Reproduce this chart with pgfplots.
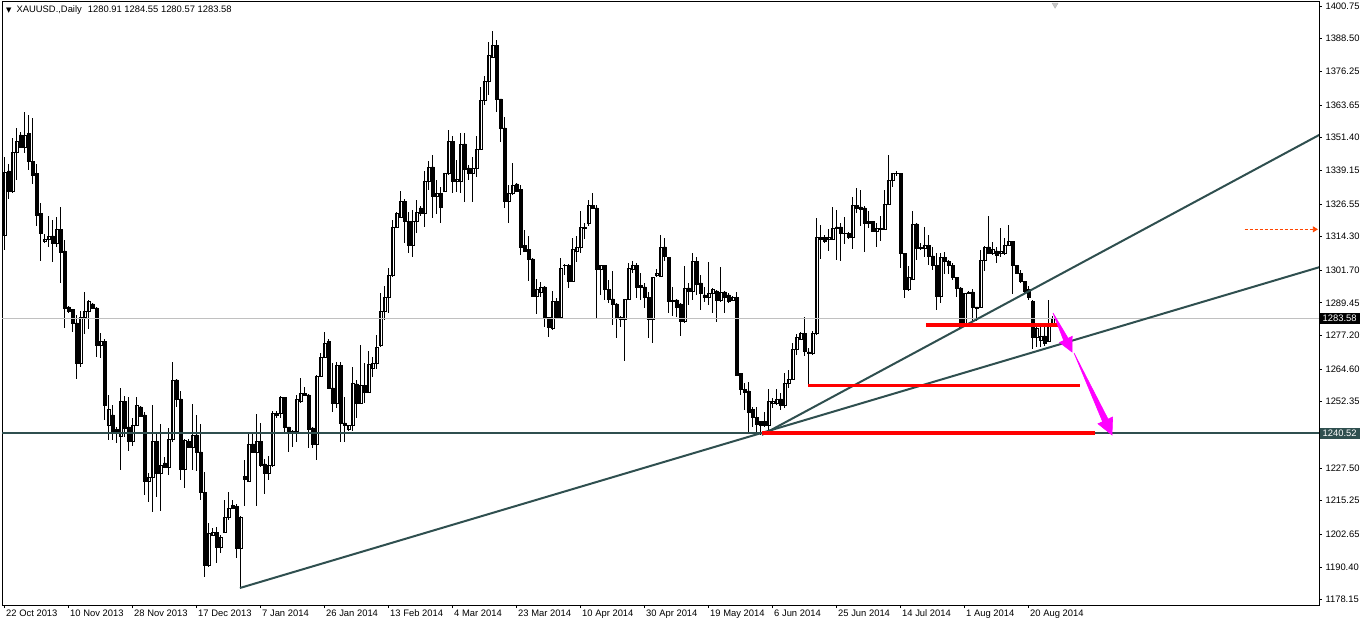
\documentclass[border=0pt]{standalone}
\usepackage{fontspec}
\setmainfont{Liberation Sans}
\newfontfamily\dejavu{DejaVu Sans}
\usepackage{pgfplots}
\pgfplotsset{compat=1.18}
\usepackage{pgfplotstable}
\usetikzlibrary{arrows.meta}
\definecolor{slate}{HTML}{2F4F4F}
\definecolor{bidgray}{HTML}{C0C0C0}
\definecolor{orred}{HTML}{FF4500}
\definecolor{mag}{HTML}{FF00FF}

\pgfplotstableread{
x o h l c
0 1314.9 1344.1 1309.3 1338.5
1 1338.9 1341.5 1328.4 1331.4
2 1331.4 1351.3 1330.5 1346.0
3 1346.0 1355.0 1335.5 1350.1
4 1352.4 1353.5 1347.5 1347.9
5 1347.9 1361.0 1345.6 1352.4
6 1352.8 1359.9 1339.3 1342.6
7 1342.6 1358.8 1334.0 1337.4
8 1337.8 1341.5 1318.3 1322.4
9 1322.8 1326.9 1305.1 1315.3
10 1312.3 1315.3 1312.0 1313.4
11 1313.4 1322.0 1310.4 1314.5
12 1314.5 1320.5 1304.8 1311.9
13 1311.9 1321.6 1310.4 1317.1
14 1317.1 1325.4 1296.9 1308.5
15 1308.9 1313.0 1280.0 1287.5
16 1287.9 1288.3 1285.6 1286.4
17 1286.8 1287.0 1278.5 1281.9
18 1281.9 1284.9 1260.9 1266.9
19 1266.9 1286.4 1265.4 1284.1
20 1284.1 1293.5 1277.8 1286.4
21 1286.4 1290.5 1279.6 1289.8
22 1289.0 1289.2 1287.3 1287.5
23 1287.5 1287.9 1269.1 1273.3
24 1273.3 1278.1 1268.8 1274.8
25 1274.8 1275.9 1245.5 1251.1
26 1243.6 1254.9 1238.0 1249.3
27 1247.4 1251.1 1238.0 1241.0
28 1241.8 1242.9 1236.9 1240.3
29 1239.5 1257.5 1226.8 1252.3
30 1252.3 1254.5 1239.1 1242.5
31 1242.9 1254.1 1233.9 1237.3
32 1237.3 1246.3 1235.8 1243.6
33 1243.6 1254.1 1243.3 1251.1
34 1250.4 1250.6 1246.8 1247.0
35 1247.4 1248.5 1217.4 1222.3
36 1222.3 1225.6 1214.8 1224.1
37 1224.1 1251.1 1211.0 1237.6
38 1237.3 1241.0 1216.6 1225.6
39 1225.6 1244.0 1211.4 1228.6
40 1229.4 1231.6 1227.7 1227.9
41 1227.9 1242.5 1224.9 1238.4
42 1238.4 1267.3 1237.3 1260.5
43 1260.5 1260.8 1250.4 1253.4
44 1253.4 1256.4 1223.0 1227.1
45 1227.1 1238.4 1220.0 1238.0
46 1237.6 1238.4 1235.2 1235.4
47 1235.4 1251.5 1226.8 1239.9
48 1239.9 1247.4 1226.4 1233.5
49 1233.5 1244.0 1215.5 1218.5
50 1218.5 1226.0 1186.6 1190.8
51 1190.8 1206.9 1190.4 1202.8
52 1202.4 1205.0 1202.0 1203.5
53 1203.5 1205.4 1191.9 1197.9
54 1197.9 1202.4 1195.6 1201.3
55 1203.5 1215.5 1203.0 1208.8
56 1208.8 1218.5 1208.0 1212.5
57 1213.6 1215.5 1212.2 1212.5
58 1213.1 1214.0 1193.8 1197.5
59 1197.5 1209.5 1182.5 1209.1
60 1224.5 1230.5 1213.1 1223.4
61 1222.6 1240.3 1222.3 1236.5
62 1236.5 1240.6 1233.3 1233.5
63 1233.5 1247.8 1213.1 1237.3
64 1237.3 1244.4 1228.0 1228.3
65 1229.0 1230.9 1217.8 1225.3
66 1225.3 1232.0 1223.0 1228.3
67 1228.3 1248.9 1227.9 1247.8
68 1248.1 1248.9 1246.3 1247.4
69 1248.1 1254.5 1246.3 1253.8
70 1253.8 1254.1 1240.6 1242.9
71 1242.9 1243.0 1233.5 1241.0
72 1241.0 1241.6 1235.4 1241.4
73 1241.4 1254.9 1237.3 1253.4
74 1252.3 1261.3 1251.9 1255.6
75 1255.6 1257.9 1254.7 1254.9
76 1254.9 1255.1 1235.0 1242.1
77 1242.5 1243.0 1235.0 1236.5
78 1236.5 1262.2 1230.5 1262.0
79 1262.0 1270.6 1261.6 1269.1
80 1269.1 1278.5 1268.9 1274.4
81 1275.1 1275.9 1257.1 1257.5
82 1257.5 1266.9 1248.5 1251.9
83 1251.9 1267.3 1250.0 1266.1
84 1266.1 1267.3 1237.3 1244.4
85 1244.4 1254.1 1237.3 1243.6
86 1241.8 1243.6 1241.4 1243.3
87 1243.3 1265.4 1241.4 1259.4
88 1259.0 1260.5 1246.3 1251.9
89 1251.9 1273.6 1251.6 1258.3
90 1258.6 1266.9 1251.9 1256.0
91 1256.0 1271.4 1255.6 1266.5
92 1265.0 1269.1 1261.6 1266.9
93 1266.9 1277.4 1264.6 1272.9
94 1273.3 1293.1 1272.9 1286.4
95 1286.4 1295.8 1283.0 1291.3
96 1291.3 1302.5 1285.6 1299.9
97 1299.9 1320.5 1299.1 1317.9
98 1317.9 1323.5 1317.5 1323.1
99 1321.6 1331.4 1321.4 1327.6
100 1327.6 1328.4 1311.9 1319.8
101 1319.8 1323.5 1308.1 1310.8
102 1310.8 1324.3 1306.6 1320.1
103 1320.1 1328.0 1315.6 1323.5
104 1325.0 1325.8 1322.0 1323.1
105 1323.1 1338.9 1317.9 1335.1
106 1335.1 1342.6 1331.8 1340.4
107 1340.4 1344.9 1321.3 1329.5
108 1329.5 1335.5 1322.8 1330.6
109 1330.6 1332.9 1319.4 1325.4
110 1331.4 1338.1 1331.0 1337.8
111 1337.8 1354.3 1337.4 1350.1
112 1350.1 1352.0 1330.6 1335.1
113 1335.1 1343.0 1331.0 1335.9
114 1335.1 1353.1 1330.6 1349.0
115 1349.0 1353.1 1327.3 1339.6
116 1340.0 1341.1 1335.5 1337.8
117 1337.8 1344.1 1327.3 1340.0
118 1340.0 1352.0 1336.6 1347.1
119 1347.1 1370.4 1346.8 1365.5
120 1365.5 1374.5 1363.6 1372.3
121 1372.3 1387.3 1367.4 1382.4
122 1381.6 1391.4 1381.3 1386.1
123 1386.1 1388.0 1361.0 1365.9
124 1365.9 1366.0 1349.8 1355.0
125 1355.0 1359.1 1325.0 1327.3
126 1327.3 1333.6 1319.4 1330.3
127 1330.3 1341.9 1329.9 1333.6
128 1334.0 1334.4 1331.0 1331.4
129 1331.8 1333.6 1307.4 1310.4
130 1310.8 1316.8 1308.5 1308.9
131 1309.3 1314.5 1297.6 1305.9
132 1305.9 1306.3 1291.6 1292.0
133 1292.0 1298.4 1285.3 1294.6
134 1293.5 1297.3 1291.6 1295.4
135 1295.4 1295.6 1280.4 1283.8
136 1283.8 1284.0 1276.6 1280.4
137 1280.0 1293.9 1279.3 1289.8
138 1289.8 1291.3 1283.8 1284.1
139 1284.1 1306.3 1283.8 1302.5
140 1303.4 1304.0 1299.9 1303.6
141 1303.3 1304.0 1295.0 1297.6
142 1297.6 1313.8 1297.4 1309.3
143 1308.9 1314.5 1304.8 1310.4
144 1310.4 1323.9 1308.1 1317.9
145 1317.5 1319.4 1313.4 1317.9
146 1319.4 1328.0 1318.3 1325.8
147 1326.1 1330.6 1324.8 1325.0
148 1325.0 1326.1 1283.8 1302.1
149 1302.1 1303.6 1292.4 1303.3
150 1303.3 1303.6 1290.5 1294.3
151 1294.3 1298.0 1289.4 1290.9
152 1290.9 1301.4 1281.1 1289.0
153 1289.0 1289.4 1276.3 1284.1
154 1284.1 1284.5 1280.4 1283.4
155 1283.4 1291.0 1267.6 1290.9
156 1290.9 1304.4 1290.5 1302.5
157 1302.1 1305.1 1300.6 1303.3
158 1303.3 1304.4 1291.3 1295.4
159 1295.8 1300.6 1290.5 1295.4
160 1295.4 1296.9 1287.5 1291.3
161 1291.3 1293.5 1276.3 1283.4
162 1283.4 1299.1 1274.4 1298.8
163 1299.9 1302.1 1299.1 1300.3
164 1299.5 1314.9 1299.1 1310.4
165 1310.4 1313.8 1305.1 1307.0
166 1306.6 1306.8 1285.6 1289.8
167 1289.8 1295.4 1284.5 1290.5
168 1290.5 1290.9 1284.1 1287.9
169 1289.0 1289.4 1277.0 1282.3
170 1282.3 1303.3 1281.9 1295.0
171 1295.0 1296.9 1288.6 1293.9
172 1293.9 1308.1 1290.5 1304.8
173 1304.8 1306.6 1292.4 1296.5
174 1296.9 1299.9 1286.8 1292.8
175 1292.4 1295.4 1289.8 1291.6
176 1291.6 1304.8 1288.6 1292.8
177 1292.8 1295.0 1285.6 1294.3
178 1293.9 1294.3 1282.3 1290.5
179 1290.5 1302.9 1289.8 1293.5
180 1293.5 1293.9 1285.6 1291.6
181 1292.4 1293.1 1289.4 1290.1
182 1290.5 1292.0 1290.1 1291.6
183 1291.6 1293.5 1262.0 1262.4
184 1262.8 1263.0 1254.9 1256.8
185 1257.1 1259.4 1249.3 1256.0
186 1256.4 1259.8 1240.6 1248.5
187 1249.6 1250.4 1242.9 1246.3
188 1246.6 1250.4 1240.6 1244.0
189 1244.8 1245.1 1239.9 1243.6
190 1244.8 1248.5 1242.9 1243.3
191 1243.3 1257.1 1241.8 1252.3
192 1251.9 1253.8 1250.0 1252.3
193 1251.9 1257.1 1251.1 1253.4
194 1253.4 1255.6 1249.3 1251.1
195 1251.1 1263.1 1250.0 1259.4
196 1259.4 1264.3 1257.5 1260.9
197 1260.9 1274.4 1260.5 1272.1
198 1272.1 1277.8 1269.9 1276.3
199 1275.9 1278.5 1275.5 1277.8
200 1277.8 1284.1 1269.5 1271.4
201 1271.0 1272.5 1258.6 1270.3
202 1270.3 1278.9 1269.9 1278.1
203 1278.1 1321.3 1277.4 1314.1
204 1314.1 1318.6 1305.9 1313.4
205 1313.8 1314.9 1311.9 1312.6
206 1313.4 1317.1 1308.9 1313.8
207 1313.4 1325.4 1313.0 1317.5
208 1317.9 1324.3 1305.5 1317.5
209 1317.9 1319.4 1305.1 1315.3
210 1315.6 1321.6 1311.5 1315.3
211 1315.3 1316.0 1313.6 1313.8
212 1314.1 1329.1 1309.6 1325.8
213 1325.8 1332.5 1323.1 1325.0
214 1325.4 1331.8 1318.3 1324.6
215 1325.0 1325.8 1308.5 1319.4
216 1319.8 1323.9 1317.5 1319.4
217 1320.1 1320.3 1316.0 1316.4
218 1316.4 1319.4 1310.4 1317.5
219 1317.1 1322.0 1312.6 1317.5
220 1317.1 1331.8 1316.8 1326.5
221 1326.5 1344.9 1326.1 1335.5
222 1335.5 1338.1 1332.9 1337.8
223 1337.8 1338.9 1337.0 1338.1
224 1338.1 1338.3 1302.5 1308.1
225 1308.1 1308.3 1291.3 1294.6
226 1294.6 1303.3 1293.9 1298.8
227 1298.4 1323.9 1298.0 1319.0
228 1319.0 1319.4 1305.5 1310.0
229 1310.2 1311.9 1309.3 1309.8
230 1310.0 1317.9 1306.6 1310.8
231 1310.8 1314.9 1303.6 1307.0
232 1307.0 1310.4 1301.8 1303.3
233 1303.6 1308.1 1286.8 1292.0
234 1292.0 1308.1 1289.4 1306.3
235 1306.6 1308.5 1300.3 1305.1
236 1305.1 1305.5 1300.3 1303.6
237 1303.6 1304.4 1298.0 1298.8
238 1298.8 1299.1 1291.6 1295.0
239 1295.0 1295.4 1280.0 1280.4
240 1281.9 1293.3 1281.7 1293.1
241 1293.1 1293.9 1292.8 1293.5
242 1293.5 1294.6 1282.3 1287.9
243 1287.9 1288.0 1282.6 1287.5
244 1287.9 1309.3 1287.5 1305.5
245 1305.5 1310.6 1301.4 1310.4
246 1310.4 1322.0 1307.9 1308.1
247 1308.1 1312.3 1307.4 1309.3
248 1308.9 1310.4 1304.4 1307.4
249 1308.1 1317.5 1306.6 1308.9
250 1308.1 1313.8 1307.4 1311.1
251 1311.1 1318.6 1310.8 1312.3
252 1312.3 1312.6 1292.8 1303.6
253 1303.6 1303.8 1300.3 1300.6
254 1300.6 1301.8 1296.9 1297.3
255 1297.3 1297.6 1293.1 1293.9
256 1294.6 1295.8 1290.5 1291.3
257 1289.8 1290.5 1272.1 1276.6
258 1276.6 1280.4 1272.9 1280.0
259 1275.5 1281.9 1272.9 1277.0
260 1277.0 1281.1 1273.3 1274.4
261 1275.1 1290.5 1274.8 1280.8
262 1280.91 1284.55 1280.57 1283.58
}\candles

\begin{document}
\begin{tikzpicture}[x=1pt,y=1pt]
\useasboundingbox (0,0) rectangle (1365,624);
\pgfplotsset{common/.style={
  scale only axis, width=1317pt, height=604pt,
  xmin=-0.675, xmax=328.575, ymin=1176.125, ymax=1402.625,
  at={(2pt,19pt)}, anchor=south west}}
\begin{axis}[common,
  ybar stacked, bar width=0.72,
  axis line style={black, line width=0.8pt},
  xtick={0,16,...,256},
  xticklabels={22 Oct 2013,10 Nov 2013,28 Nov 2013,17 Dec 2013,7 Jan 2014,26 Jan 2014,13 Feb 2014,4 Mar 2014,23 Mar 2014,10 Apr 2014,30 Apr 2014,19 May 2014,6 Jun 2014,25 Jun 2014,14 Jul 2014,1 Aug 2014,20 Aug 2014},
  ytick={1178.15,1190.40,1202.65,1215.25,1227.50,1240.10,1252.35,1264.60,1277.20,1289.45,1301.70,1314.30,1326.55,1339.15,1351.40,1363.65,1376.25,1388.50,1400.75},
  yticklabels={1178.15,1190.40,1202.65,1215.25,1227.50,{},1252.35,1264.60,1277.20,1289.45,1301.70,1314.30,1326.55,1339.15,1351.40,1363.65,1376.25,1388.50,1400.75},
  xtick pos=left, ytick pos=right, yticklabel pos=right,
  tick align=outside, major tick length=3pt,
  tick style={black, line width=0.6pt},
  tick label style={font=\fontsize{9.4}{11}\selectfont, black},
  x tick label style={anchor=north west, xshift=-2pt, yshift=2pt},
  y tick label style={anchor=west, xshift=0pt},
]
\addplot[draw=none, fill=none,
  error bars/.cd, y dir=both, y explicit, error mark=none,
  error bar style={draw=black, line width=0.8pt, solid}]
  table[x=x, y expr={min(\thisrow{o},\thisrow{c})},
        y error plus expr={\thisrow{h}-min(\thisrow{o},\thisrow{c})},
        y error minus expr={min(\thisrow{o},\thisrow{c})-\thisrow{l}}] \candles;
\addplot[draw=black, fill=white, line width=0.8pt]
  table[x=x, y expr={max(\thisrow{c}-\thisrow{o},0)}] \candles;
\addplot[draw=black, fill=black, line width=0.8pt]
  table[x=x, y expr={max(\thisrow{o}-\thisrow{c},0)}] \candles;
\end{axis}

\begin{axis}[common, hide axis]
\addplot[bidgray, line width=0.8pt] coordinates {(-2,1283.58) (330,1283.58)};
\addplot[slate, line width=2pt] coordinates {(-2,1240.52) (330,1240.52)};
\addplot[slate, line width=2pt] coordinates {(58.8,1182.5) (330,1303.4)};
\addplot[slate, line width=2pt] coordinates {(189.3,1239.9) (330,1353.5)};
\addplot[red, line width=3.8pt] coordinates {(230.3,1281.1) (263.3,1281.1)};
\addplot[red, line width=3.8pt] coordinates {(200.8,1258.4) (268.8,1258.4)};
\addplot[red, line width=3.8pt] coordinates {(189.3,1240.52) (272.6,1240.52)};
% magenta wedge arrows
\addplot[fill=mag, draw=mag, line width=0.6pt] coordinates {
  (262.08,1285.63) (265.85,1276.14) (266.88,1276.89) (266.83,1271.0)
  (263.73,1274.56) (264.75,1275.31)} --cycle;
\addplot[fill=mag, draw=mag, line width=0.6pt] coordinates {
  (267.33,1270.63) (275.83,1245.84) (276.98,1246.63) (276.83,1239.88)
  (273.33,1244.08) (274.48,1244.86)} --cycle;
\addplot[orred, densely dashed, line width=0.8pt, -{Triangle[width=6pt,length=5pt]}] coordinates {(310,1317.0) (328.3,1317.0)};
\addplot[only marks, mark=triangle*, mark size=3.5pt, mark options={rotate=180, fill=gray!45, draw=gray!60}] coordinates {(262.6,1401.2)};
\end{axis}

\node[anchor=west, fill=black, text=white, inner xsep=3pt, inner ysep=2pt, font=\fontsize{9.4}{11}\selectfont] at (1319.5,305.6) {1283.58};
\node[anchor=west, fill=slate, text=white, inner xsep=3pt, inner ysep=2pt, font=\fontsize{9.4}{11}\selectfont] at (1319.5,190.7) {1240.52};
\node[anchor=west, inner sep=0pt, font=\fontsize{9.4}{11}\selectfont] at (6,614) {{\dejavu\fontsize{7}{8}\selectfont ▼}\hspace{5pt}XAUUSD.,Daily\hspace{6pt}1280.91 1284.55 1280.57 1283.58};
\end{tikzpicture}
\end{document}
